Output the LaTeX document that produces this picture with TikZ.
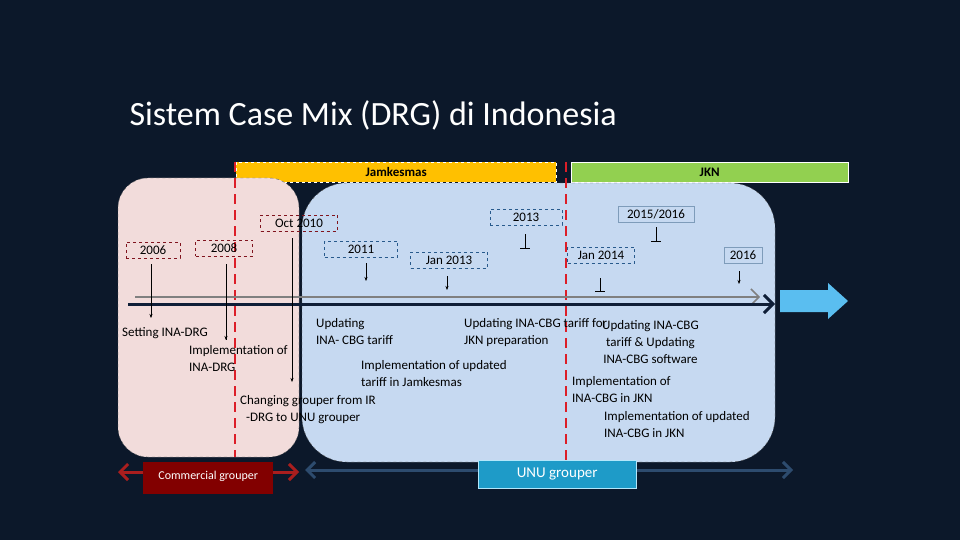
\documentclass[tikz,border=0pt]{standalone}
\usepackage{fontspec}
\setmainfont{Carlito}
\usetikzlibrary{arrows.meta}
\definecolor{bg}{RGB}{12,24,42}
\definecolor{pinkf}{RGB}{242,220,219}
\definecolor{bluef}{RGB}{198,217,241}
\definecolor{ddred}{RGB}{128,20,30}
\definecolor{dblue}{RGB}{40,90,140}
\definecolor{gold}{RGB}{255,192,0}
\definecolor{grn}{RGB}{146,208,80}
\definecolor{rdash}{RGB}{220,30,40}
\definecolor{bigarr}{RGB}{90,190,240}
\definecolor{redarr}{RGB}{170,30,30}
\definecolor{bluearr}{RGB}{45,75,110}
\definecolor{cgfill}{RGB}{130,0,0}
\definecolor{ugfill}{RGB}{30,155,200}
\definecolor{tline}{RGB}{15,30,55}
\tikzset{
 yr/.style={draw=#1,dashed,font=\fontsize{13}{15}\selectfont,inner sep=1pt,minimum height=16pt,text=black},
 lbl/.style={font=\fontsize{13}{15}\selectfont,text=black,align=left,inner sep=0pt},
 tick/.style={-{Stealth[length=4pt]},black},
 reddash/.style={draw=rdash,line width=2.5pt,dash pattern=on 10pt off 6pt}
}
\begin{document}
\begin{tikzpicture}[x=1pt,y=-1pt]
\useasboundingbox (0,0) rectangle (960,540);
\fill[bg] (0,0) rectangle (960,540);
\node[anchor=west,text=white,font=\fontsize{34}{38}\selectfont] (title) at (126,115) {Sistem Case Mix (DRG) di Indonesia};
\node[draw=white,dashed,fill=gold,minimum width=320pt,minimum height=20pt,anchor=north west,inner sep=0pt,font=\fontsize{13}{15}\selectfont\bfseries] (jam) at (236,162) {Jamkesmas};
\node[draw=white,fill=grn,minimum width=277pt,minimum height=20pt,anchor=north west,inner sep=0pt,font=\fontsize{13}{15}\selectfont\bfseries] (jkn) at (571,162) {JKN};
\draw[fill=pinkf,draw=black!60,dashed,rounded corners=30pt] (118,178) rectangle (299,457);
\draw[fill=bluef,draw=black!60,dashed,rounded corners=45pt] (302,183) rectangle (775,462);
\draw[reddash] (235,162) -- (235,457);
\draw[reddash] (566,162) -- (566,462);
\draw[gray,line width=1.5pt,-{Straight Barb[length=8pt]}] (135,297) -- (760,297);
\draw[tline,line width=3pt,-{Straight Barb[length=9pt]}] (128,304) -- (775,304);
\fill[bigarr] (780,290) -- (828,290) -- (828,283) -- (848,301) -- (828,319) -- (828,312) -- (780,312) -- cycle;
\node[yr=ddred,minimum width=54pt] (y06) at (153,250) {2006};
\node[yr=ddred,minimum width=57pt] (y08) at (224,248) {2008};
\node[yr=ddred,minimum width=77pt] (y10) at (299,223) {Oct 2010};
\node[yr=dblue,minimum width=73pt] (y11) at (361,249) {2011};
\node[yr=dblue,minimum width=77pt] (j13) at (449,260) {Jan 2013\hspace{12pt}};
\node[yr=dblue,minimum width=72pt] (y13) at (526,217) {2013};
\node[yr=dblue,solid,draw=dblue!60,minimum width=76pt] (y1516) at (656,214) {2015/2016};
\node[yr=dblue,minimum width=67pt] (j14) at (601,255) {Jan 2014\hspace{12pt}};
\node[yr=dblue,solid,draw=dblue!60,minimum width=38pt] (y16) at (743,255) {2016};
\coordinate (a06) at (151,318);
\coordinate (a08) at (226,340);
\coordinate (a10) at (292,382);
\draw[tick] (151,264) -- (a06);
\draw[black,line width=1pt] (226,264) -- (a08);
\draw[tick] (226,330) -- (a08);
\draw[tick] (292,238) -- (a10);
\foreach \x/\a/\b in {366/263/281,447/276/290,739/271/284}{\draw[tick] (\x,\a) -- (\x,\b);}
\foreach \x/\a/\b in {525/234/248,656/227/241,600/278/291}{\draw[black] (\x,\a) -- (\x,\b); \draw[black] (\x-5,\b) -- (\x+5,\b);}
\node[lbl,anchor=north west] (t1) at (122,327) {Setting INA-DRG};
\node[lbl,anchor=north west] (t2) at (189,345) {Implementation of\\[2pt]INA-DRG};
\node[lbl,anchor=north west] (t3) at (240,395) {Changing grouper from IR\\[2pt]\hspace*{6pt}-DRG to UNU grouper};
\node[lbl,anchor=north west] (t4) at (316,318) {Updating\\[2pt]INA- CBG tariff};
\node[lbl,anchor=north west] (t5) at (361,360) {Implementation of updated\\[2pt]tariff in Jamkesmas};
\node[lbl,anchor=north west] (t6) at (464,318) {Updating INA-CBG tariff for\\[2pt]JKN preparation};
\node[lbl,anchor=north west,align=center] (t7) at (602,320) {Updating INA-CBG\\[2pt]tariff \& Updating\\[2pt]INA-CBG software};
\node[lbl,anchor=north west] (t8) at (572,376) {Implementation of\\[2pt]INA-CBG in JKN};
\node[lbl,anchor=north west] (t9) at (604,411) {Implementation of updated\\[2pt]INA-CBG in JKN};
\draw[redarr,line width=3pt,{Straight Barb[length=8pt]}-{Straight Barb[length=8pt]}] (118,472) -- (299,472);
\draw[bluearr,line width=3pt,{Straight Barb[length=8pt]}-{Straight Barb[length=8pt]}] (305,470) -- (793,470);
\node[fill=cgfill,text=white,minimum width=130pt,minimum height=32pt,anchor=north west,inner sep=0pt,font=\fontsize{12}{14}\selectfont] (cg) at (143,462) {\raisebox{6pt}{Commercial grouper}};
\node[fill=ugfill,draw=white!70!cyan,text=white,minimum width=158pt,minimum height=28pt,anchor=north west,inner sep=0pt,font=\fontsize{15}{17}\selectfont] (ug) at (478,460) {UNU grouper};
\end{tikzpicture}
\end{document}
